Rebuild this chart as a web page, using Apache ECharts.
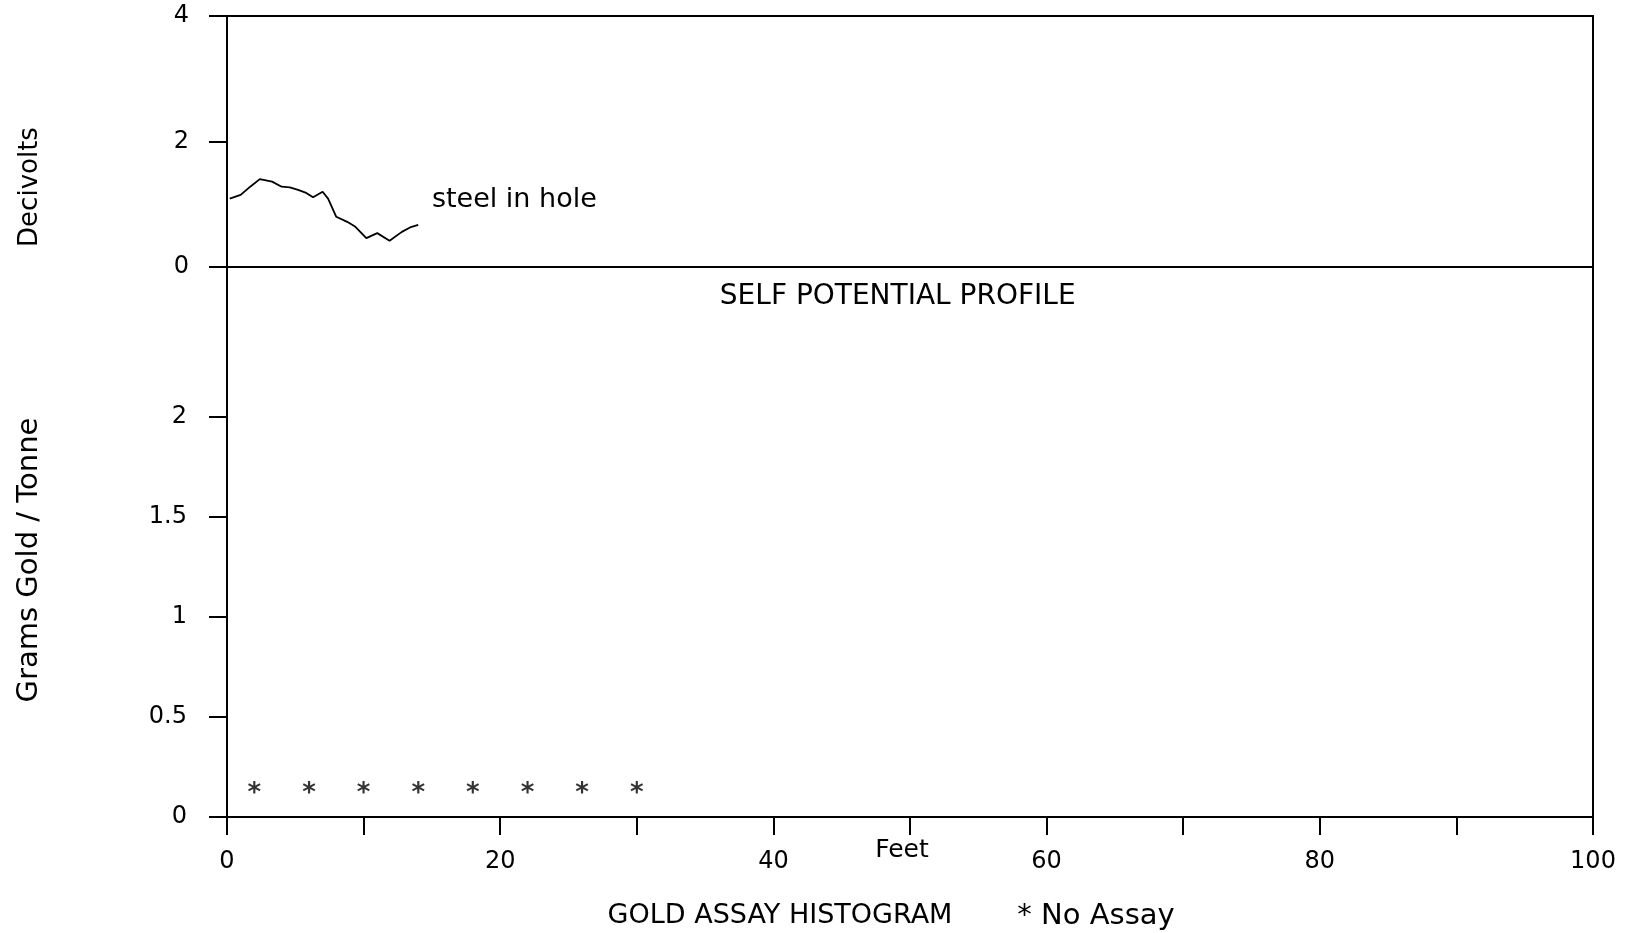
<!DOCTYPE html>
<html>
<head>
<meta charset="utf-8">
<title>Self Potential Profile / Gold Assay Histogram</title>
<script src="https://cdn.jsdelivr.net/npm/echarts@6/dist/echarts.min.js"></script>
<style>
  html, body { margin: 0; padding: 0; background: #fff; }
  #chart { width: 1629px; height: 933px; }
</style>
</head>
<body>
<div id="chart"></div>
<script>
// Self potential readings down the hole (feet, decivolts)
const spFeet = [0.2, 1, 1.7, 2.4, 3.3, 4, 4.6, 5.2, 5.8, 6.3, 7, 7.4, 8, 8.8, 9.4, 10.2, 11, 11.9, 12.8, 13.4, 14];
const spDecivolts = [1.09, 1.15, 1.28, 1.40, 1.36, 1.28, 1.27, 1.23, 1.18, 1.11, 1.20, 1.09, 0.80, 0.72, 0.64, 0.46, 0.54, 0.42, 0.56, 0.63, 0.67];

// Assay intervals with no gold assay (marked with an asterisk)
const noAssayFeet = [2, 6, 10, 14, 18, 22, 26, 30];
const noAssayLevel = 0.15;

// Axis ticks and labels
const spTicks = [0, 2, 4];
const goldTicks = [0, 0.5, 1, 1.5, 2];
const feetTicks = [0, 10, 20, 30, 40, 50, 60, 70, 80, 90, 100];
const feetLabels = [0, 20, 40, 60, 80, 100];

const FONT = 'DejaVu Sans';
const INK = '#000';

const chart = echarts.init(document.getElementById('chart'), null, { renderer: 'canvas' });

const labelStyle = { color: INK, fontFamily: FONT, fontSize: 24 };
const lineStyle = { color: INK, width: 2 };

const option = {
  animation: false,
  backgroundColor: '#fff',
  grid: [
    { left: 227, width: 1366, top: 16, height: 251, show: true, borderColor: INK, borderWidth: 2, backgroundColor: 'transparent' },
    { left: 227, width: 1366, top: 267, height: 550, show: true, borderColor: INK, borderWidth: 2, backgroundColor: 'transparent' }
  ],
  xAxis: [
    { gridIndex: 0, type: 'value', min: 0, max: 100, show: false },
    {
      gridIndex: 1, type: 'value', min: 0, max: 100, interval: 10,
      axisLine: { show: true, onZero: false, lineStyle: lineStyle },
      axisTick: { show: true, inside: false, length: 18, lineStyle: lineStyle, customValues: feetTicks },
      axisLabel: { show: true, margin: 33, ...labelStyle, customValues: feetLabels,
        formatter: v => (feetLabels.indexOf(v) >= 0 ? String(v) : '') },
      splitLine: { show: false }
    }
  ],
  yAxis: [
    {
      gridIndex: 0, type: 'value', min: 0, max: 4, interval: 2,
      axisLine: { show: true, onZero: false, lineStyle: lineStyle },
      axisTick: { show: true, inside: false, length: 18, lineStyle: lineStyle, customValues: spTicks },
      axisLabel: { show: true, margin: 38, ...labelStyle, customValues: spTicks },
      splitLine: { show: false }
    },
    {
      gridIndex: 1, type: 'value', min: 0, max: 2.75, interval: 0.5,
      axisLine: { show: true, onZero: false, lineStyle: lineStyle },
      axisTick: { show: true, inside: false, length: 18, lineStyle: lineStyle, customValues: goldTicks },
      axisLabel: { show: true, margin: 40, ...labelStyle, customValues: goldTicks,
        formatter: v => (goldTicks.indexOf(v) >= 0 ? String(v) : '') },
      splitLine: { show: false }
    }
  ],
  series: [
    {
      name: 'Self potential',
      type: 'line',
      xAxisIndex: 0, yAxisIndex: 0,
      data: spFeet.map((f, i) => [f, spDecivolts[i]]),
      showSymbol: false,
      symbol: 'none',
      lineStyle: { color: INK, width: 1.8 }
    },
    {
      name: 'No Assay',
      type: 'scatter',
      xAxisIndex: 1, yAxisIndex: 1,
      data: noAssayFeet.map(f => [f, noAssayLevel]),
      symbolSize: 0,
      label: {
        show: true, position: 'inside', formatter: '*', offset: [0, 7],
        color: INK, fontFamily: FONT, fontSize: 26, fontWeight: 'bold'
      }
    }
  ]
};

chart.setOption(option);

// Captions and axis titles; in-plot notes are anchored to data coordinates
const steelAt = chart.convertToPixel({ gridIndex: 0 }, [15, 1.07]);
const profileAt = chart.convertToPixel({ gridIndex: 1 }, [49.1, 2.6]);

function caption(text, x, y, size, align, rotation) {
  return {
    type: 'text', x: x, y: y, rotation: rotation || 0, silent: true,
    style: { text: text, fill: INK, font: size + 'px "' + FONT + '"', align: align || 'center', verticalAlign: 'middle' }
  };
}

chart.setOption({
  graphic: [
    caption('steel in hole', steelAt[0], steelAt[1], 27, 'left'),
    caption('SELF POTENTIAL PROFILE', profileAt[0], profileAt[1], 28),
    caption('Feet', 902, 850, 25),
    caption('GOLD ASSAY HISTOGRAM', 780, 916, 27),
    caption('* No Assay', 1096, 916, 29),
    caption('Decivolts', 30, 187, 26, 'center', Math.PI / 2),
    caption('Grams Gold / Tonne', 29, 560, 29, 'center', Math.PI / 2)
  ]
});
</script>
</body>
</html>
